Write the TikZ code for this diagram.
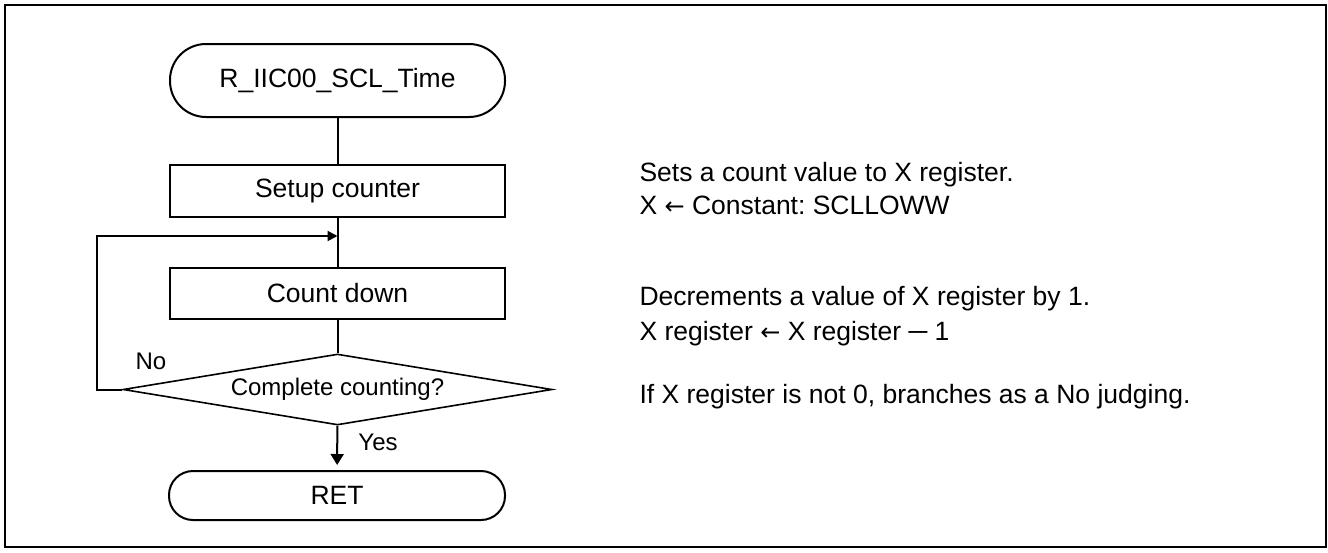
\documentclass[tikz,border=0pt]{standalone}
\usepackage{fontspec}
\setmainfont{Liberation Sans}
\newfontfamily\arrowfont{DejaVu Sans}
\newcommand{\larr}{{\arrowfont\fontsize{24}{28}\selectfont ←}}
\frenchspacing
\usetikzlibrary{arrows.meta,shapes.geometric}
\begin{document}
\begin{tikzpicture}[x=1pt,y=-1pt,line join=miter,
  big/.style={font=\fontsize{26.5}{30}\selectfont},
  small/.style={font=\fontsize{24}{28}\selectfont},
  box/.style={draw,line width=2pt,minimum width=335pt,inner sep=0pt,big},
  term/.style={draw,line width=2pt,inner sep=0pt,big},
  dec/.style={diamond,draw,line width=1.6pt,aspect=6,inner sep=0pt,minimum width=429pt,minimum height=71pt,small},
  flow/.style={line width=2pt},
  arr/.style={line width=2pt,-{Triangle[length=10pt,width=10pt]}},
  note/.style={anchor=base west,big}]
\useasboundingbox (0,0) rectangle (1328,552);
\draw[line width=2pt] (4.5,5) rectangle (1326,547);

\node[term,minimum width=335pt,minimum height=73pt,rounded corners=36pt] (start) at (337.5,80.5) {R\_IIC00\_SCL\_Time};
\node[box,minimum height=52pt] (setup) at (337.5,191) {Setup counter};
\node[box,minimum height=51pt] (count) at (337.5,293.5) {Count down};
\node[dec] (dec) at (337.5,389.5) {Complete counting?};
\node[term,minimum width=336pt,minimum height=49pt,rounded corners=24pt] (ret) at (337,495.5) {RET};
\coordinate (join) at (337.5,236);

\draw[flow] (start) -- (setup);
\draw[flow] (setup) -- (count);
\draw[flow] (count) -- (dec);
\draw[line width=2pt,-{Triangle[length=11pt,width=13pt]},shorten >=5pt] (dec) -- (ret);
\draw[arr] (dec.west) -- ++(-25,0) |- (join);

\node[small] (no) at (151,361) {No};
\node[small] (yes) at (378,442.5) {Yes};

\node[note] (n1) at (636,181) {Sets a count value to X register.};
\node[note] (n2) at (636,214) {X \larr{} Constant: SCLLOWW};
\node[note] (n3) at (636,305) {Decrements a value of X register by 1.};
\node[note] (n4) at (636,340) {X register \larr{} X register ─ 1};
\node[note] (n5) at (636,403) {If X register is not 0, branches as a No judging.};
\end{tikzpicture}
\end{document}
